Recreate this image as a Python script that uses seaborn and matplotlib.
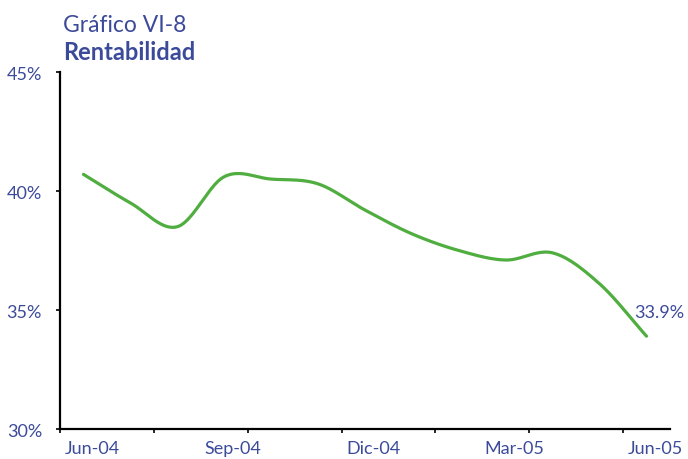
import numpy as np
import pandas as pd
import seaborn as sns
import matplotlib
matplotlib.use("Agg")
import matplotlib.pyplot as plt
from matplotlib.transforms import ScaledTranslation

# datos mensuales Jun-04 .. Jun-05 (en %)
meses = ["Jun-04", "Jul-04", "Ago-04", "Sep-04", "Oct-04", "Nov-04", "Dic-04",
         "Ene-05", "Feb-05", "Mar-05", "Abr-05", "May-05", "Jun-05"]
rentabilidad = [40.7, 39.5, 38.5, 40.6, 40.5, 40.3, 39.2,
                38.2, 37.5, 37.1, 37.4, 36.1, 33.9]
etiquetas = ["Jun-04", "Sep-04", "Dic-04", "Mar-05", "Jun-05"]

AZUL = "#3c4a9a"
VERDE = "#4fae3f"


def suavizar(x, y, n=24):
    # curva tipo Catmull-Rom, como la linea suavizada de Excel
    p = np.column_stack([x, y]).astype(float)
    ext = np.vstack([2 * p[0] - p[1], p, 2 * p[-1] - p[-2]])
    out = []
    t = np.linspace(0, 1, n, endpoint=False)[:, None]
    for i in range(1, len(ext) - 2):
        p0, p1, p2, p3 = ext[i - 1], ext[i], ext[i + 1], ext[i + 2]
        m1 = (p2 - p0) / 2
        m2 = (p3 - p1) / 2
        h00 = 2 * t**3 - 3 * t**2 + 1
        h10 = t**3 - 2 * t**2 + t
        h01 = -2 * t**3 + 3 * t**2
        h11 = t**3 - t**2
        out.append(h00 * p1 + h10 * m1 + h01 * p2 + h11 * m2)
    out.append(p[-1][None, :])
    out = np.vstack(out)
    return out[:, 0], out[:, 1]


sns.set_style("white")
plt.rcParams["font.family"] = ["Lato", "DejaVu Sans"]

fig = plt.figure(figsize=(6.88, 4.6), dpi=100)
ax = fig.add_axes([0.0872, 0.0652, 0.8866, 0.7761])

xs, ys = suavizar(np.arange(len(meses)), rentabilidad)
df = pd.DataFrame({"x": xs, "y": ys})
sns.lineplot(data=df, x="x", y="y", ax=ax, color=VERDE, linewidth=2.3,
             sort=False, estimator=None)

ax.set_xlim(-0.5, len(meses) - 0.5)
ax.set_ylim(30, 45)
ax.set_yticks([30, 35, 40, 45])
ax.set_yticklabels([f"{v}%" for v in [30, 35, 40, 45]])
ax.set_xticks([meses.index(e) for e in etiquetas])
ax.set_xticklabels(etiquetas)
ax.set_xticks(np.arange(-0.5, len(meses), 2), minor=True)
ax.tick_params(axis="x", which="major", length=0, pad=8, labelsize=13,
               labelcolor=AZUL)
ax.tick_params(axis="x", which="minor", length=3, width=1.2, color="black",
               direction="out", bottom=True)
ax.tick_params(axis="y", length=3, width=1.2, color="black", direction="out",
               pad=10, labelsize=13, labelcolor=AZUL, left=True)
desplazar = ScaledTranslation(9 / 100, 0, fig.dpi_scale_trans)
for lab in ax.get_xticklabels():
    lab.set_transform(lab.get_transform() + desplazar)
ax.set_xlabel("")
ax.set_ylabel("")

sns.despine(ax=ax)
for s in ["left", "bottom"]:
    ax.spines[s].set_color("black")
    ax.spines[s].set_linewidth(1.6)

ax.annotate(f"{rentabilidad[-1]}%", (len(meses) - 1, rentabilidad[-1]),
            xytext=(-9, 17.5), textcoords="offset points", color=AZUL,
            fontsize=13, ha="left", va="center")

fig.text(63 / 688, 1 - 26 / 460, "Gráfico VI-8", color=AZUL, fontsize=16.5,
         va="center", ha="left")
fig.text(63 / 688, 1 - 52 / 460, "Rentabilidad", color=AZUL, fontsize=17,
         fontweight="bold", va="center", ha="left")

fig.savefig("out.png", dpi=100)
